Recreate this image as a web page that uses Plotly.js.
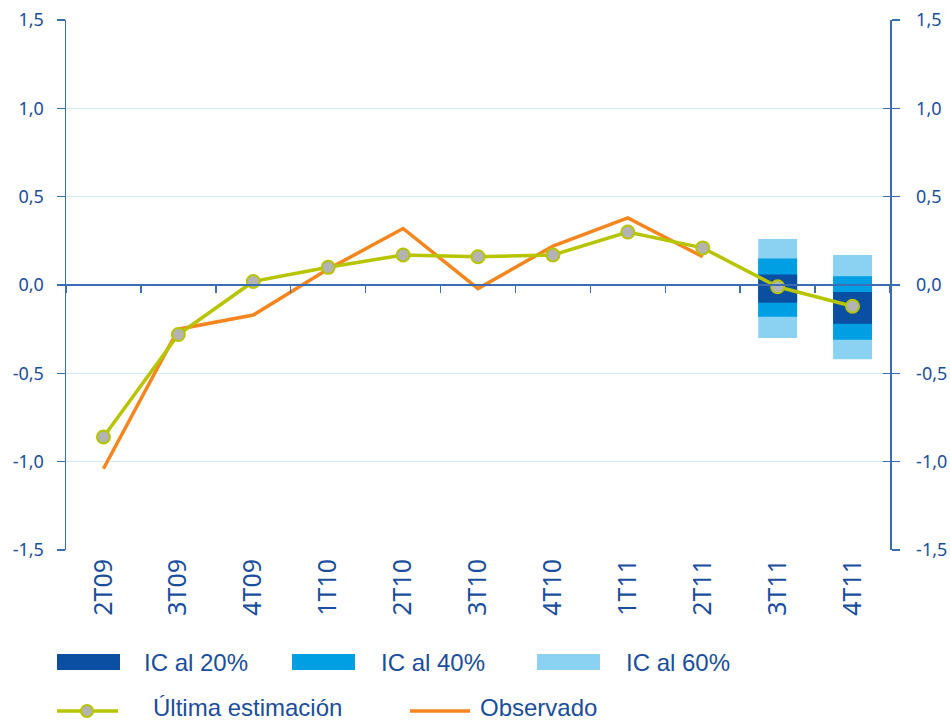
<!DOCTYPE html>
<html>
<head>
<meta charset="utf-8">
<script src="https://cdn.plot.ly/plotly-3.0.1.min.js"></script>
<style>html,body{margin:0;padding:0;background:#fff;}#chart{width:950px;height:721px;}</style>
</head>
<body>
<div id="chart"></div>
<script>
// ---- data ----
const categories = ['2T09','3T09','4T09','1T10','2T10','3T10','4T10','1T11','2T11','3T11','4T11'];
const ultimaEstimacion = [-0.86, -0.28, 0.02, 0.10, 0.17, 0.16, 0.17, 0.30, 0.21, -0.01, -0.12];
const observado = [-1.04, -0.25, -0.17, 0.09, 0.32, -0.02, 0.22, 0.38, 0.16, null, null];
const icCategories = ['3T11','4T11'];
const ic20Low = [-0.10, -0.22], ic20High = [0.06, -0.04];
const ic40Low = [-0.18, -0.31], ic40High = [0.15, 0.05];
const ic60Low = [-0.30, -0.42], ic60High = [0.26, 0.17];
const yTicks = [-1.5, -1.0, -0.5, 0.0, 0.5, 1.0, 1.5];
const yTickText = ['-1,5', '-1,0', '-0,5', '0,0', '0,5', '1,0', '1,5'];
const legendLabels = ['IC al 20%', 'IC al 40%', 'IC al 60%', 'Última estimación', 'Observado'];

// ---- style ----
const C_DARK = '#0b4fa2', C_MED = '#009ee2', C_LIGHT = '#8bd2f2';
const C_GREEN = '#b7c400', C_ORANGE = '#f5861f', C_TEXT = '#1a4e9c', C_AXIS = '#3b6db3', C_GRID = '#cdeaf8';
const M = {l: 66, r: 60, t: 20, b: 171};
const PW = 950 - M.l - M.r, PH = 721 - M.t - M.b;
const px = x => (x - M.l) / PW;
const py = y => (721 - M.b - y) / PH;

function band(low, high, color) {
  return {type: 'bar', x: icCategories, base: low, y: high.map((h, i) => h - low[i]),
    width: 0.52, marker: {color: color, line: {width: 0}}, showlegend: false, hoverinfo: 'skip', xaxis: 'x', yaxis: 'y'};
}
function dummy(xa, ya) {
  return {type: 'scatter', mode: 'markers', x: categories, y: categories.map(() => null), showlegend: false,
    hoverinfo: 'skip', xaxis: xa, yaxis: ya};
}

const traces = [
  band(ic60Low, ic60High, C_LIGHT),
  band(ic40Low, ic40High, C_MED),
  band(ic20Low, ic20High, C_DARK),
  {type: 'scatter', mode: 'lines', x: categories, y: observado, line: {color: C_ORANGE, width: 3.5},
   connectgaps: false, showlegend: false, xaxis: 'x', yaxis: 'y'},
  {type: 'scatter', mode: 'lines+markers', x: categories, y: ultimaEstimacion, line: {color: C_GREEN, width: 3.5},
   marker: {size: 13, color: '#b3b3b3', line: {color: C_GREEN, width: 2}}, showlegend: false, xaxis: 'x', yaxis: 'y'},
  dummy('x2', 'y'), dummy('x', 'y2'), dummy('x', 'y3')
];

const tickFont = {family: 'Noto Sans, sans-serif', size: 18, color: C_TEXT};
const legFont = {family: 'Liberation Sans Narrow, Arial Narrow, sans-serif', size: 24, color: C_TEXT};

// legend built from shapes + annotations
const shapes = [];
const annotations = [];
const sw = [[57, 120, C_DARK, 142], [292, 355, C_MED, 379], [537, 600, C_LIGHT, 624]];
sw.forEach((s, i) => {
  shapes.push({type: 'rect', xref: 'paper', yref: 'paper', x0: px(s[0]), x1: px(s[1]), y0: py(670), y1: py(654),
    fillcolor: s[2], line: {width: 0}});
  annotations.push({xref: 'paper', yref: 'paper', x: px(s[3]), y: py(662), xanchor: 'left', yanchor: 'middle',
    text: legendLabels[i], showarrow: false, font: legFont});
});
shapes.push({type: 'line', xref: 'paper', yref: 'paper', x0: px(57), x1: px(118), y0: py(711), y1: py(711),
  line: {color: C_GREEN, width: 3.5}});
shapes.push({type: 'circle', xref: 'paper', yref: 'paper', x0: px(81), x1: px(93), y0: py(717), y1: py(705),
  fillcolor: '#b3b3b3', line: {color: C_GREEN, width: 2}});
annotations.push({xref: 'paper', yref: 'paper', x: px(151), y: py(707), xanchor: 'left', yanchor: 'middle',
  text: legendLabels[3], showarrow: false, font: legFont});
shapes.push({type: 'line', xref: 'paper', yref: 'paper', x0: px(410), x1: px(470), y0: py(711), y1: py(711),
  line: {color: C_ORANGE, width: 3.5}});
annotations.push({xref: 'paper', yref: 'paper', x: px(478), y: py(707), xanchor: 'left', yanchor: 'middle',
  text: legendLabels[4], showarrow: false, font: legFont});

const yBase = {range: [-1.5, 1.5], tickvals: yTicks, ticktext: yTickText, zeroline: false};
const layout = {
  width: 950, height: 721, margin: M,
  paper_bgcolor: '#fff', plot_bgcolor: '#fff',
  showlegend: false,
  barmode: 'overlay',
  xaxis: {type: 'category', categoryorder: 'array', categoryarray: categories, range: [-0.5, 10.5],
    showline: false, showgrid: false, zeroline: false, ticks: '', tickangle: -90, ticklabelstandoff: 3,
    tickfont: {family: 'Noto Sans, sans-serif', size: 25, color: C_TEXT}, anchor: 'y'},
  xaxis2: {type: 'category', categoryorder: 'array', categoryarray: categories, range: [-0.5, 10.5],
    overlaying: 'x', anchor: 'free', position: 0.5, showline: true, linecolor: C_AXIS, linewidth: 2,
    ticks: 'outside', tickson: 'boundaries', ticklen: 7, tickwidth: 1.5, tickcolor: C_AXIS,
    showticklabels: false, showgrid: false, zeroline: false},
  yaxis: Object.assign({}, yBase, {showgrid: true, gridcolor: C_GRID, gridwidth: 1.5,
    showline: true, linecolor: C_AXIS, linewidth: 1.5, ticks: 'outside', ticklen: 8,
    tickcolor: C_AXIS, tickwidth: 1.5, tickfont: tickFont, ticklabelstandoff: 9}),
  yaxis2: Object.assign({}, yBase, {overlaying: 'y', side: 'right', anchor: 'x',
    showgrid: false, showline: true, linecolor: C_AXIS, linewidth: 1.5, ticks: 'outside',
    ticklen: 8, tickcolor: C_AXIS, tickwidth: 1.5, tickfont: tickFont, ticklabelstandoff: 13}),
  yaxis3: Object.assign({}, yBase, {overlaying: 'y', side: 'right', anchor: 'x',
    showgrid: false, showline: false, ticks: 'inside', ticklen: 7, tickcolor: C_AXIS, tickwidth: 1.5,
    showticklabels: false}),
  shapes: shapes,
  annotations: annotations
};

Plotly.newPlot('chart', traces, layout, {displayModeBar: false, staticPlot: true});
</script>
</body>
</html>
